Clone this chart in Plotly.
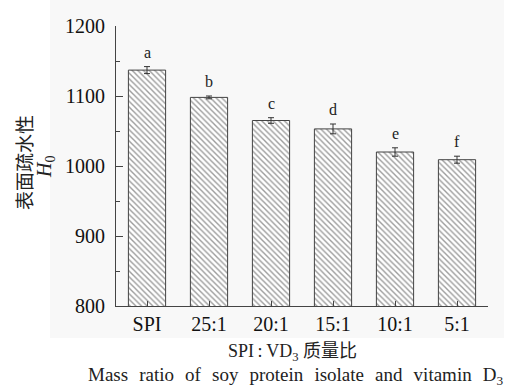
import plotly.graph_objects as go

categories = ["SPI", "25:1", "20:1", "15:1", "10:1", "5:1"]
values = [1137, 1098, 1065, 1053, 1020, 1009]
errors = [5, 2, 4, 7, 6, 5]
letters = ["a", "b", "c", "d", "e", "f"]
y_ticks = [800, 900, 1000, 1100, 1200]

FONT = "Liberation Serif, Times New Roman, Noto Sans CJK SC, serif"

W, H = 511, 387
ML, MR, MT, MB = 116, 23, 26, 81

x_idx = list(range(len(categories)))

fig = go.Figure()
fig.add_trace(go.Bar(
    x=x_idx, y=values, width=0.6,
    marker=dict(
        color="white",
        line=dict(color="#444444", width=1),
        pattern=dict(shape="\\", size=4, solidity=0.35, fgcolor="#3a3a3a", bgcolor="white"),
    ),
    error_y=dict(type="data", array=errors, visible=True, color="#333333", thickness=1, width=3),
    showlegend=False,
))

for i, (v, e, l) in enumerate(zip(values, errors, letters)):
    fig.add_annotation(x=i, y=v + e, text=l, showarrow=False, yanchor="bottom", yshift=4,
                       font=dict(family=FONT, size=16, color="#222"))

pw, ph = W - ML - MR, H - MT - MB
def px(x):
    return (x - ML) / pw
def py(y):
    return 1 - (y - MT) / ph

# faint grey panel behind chart
fig.add_shape(type="rect", xref="paper", yref="paper", layer="below",
              x0=px(50), x1=px(504), y0=py(338), y1=py(0),
              fillcolor="#f8f8f8", line=dict(width=0))

# y-axis title (two lines)
fig.add_annotation(xref="paper", yref="paper", x=px(23), y=py(163), xanchor="center", yanchor="middle",
                   text="表面疏水性", textangle=-90, showarrow=False,
                   font=dict(family="Noto Sans CJK SC", size=19, color="#222"))
fig.add_annotation(xref="paper", yref="paper", x=px(45), y=py(167), xanchor="center", yanchor="middle",
                   text="<i>H</i><sub>0</sub>", textangle=-90, showarrow=False,
                   font=dict(family=FONT, size=20, color="#222"))
# x-axis title (two lines)
fig.add_annotation(xref="paper", yref="paper", x=px(292), y=py(352), xanchor="center", yanchor="middle",
                   text="SPI\u2009:\u2009VD<sub>3</sub> 质量比", showarrow=False,
                   font=dict(family=FONT, size=18, color="#222"))
sep = "\u00a0\u00a0\u200a"
line2 = sep.join(["Mass", "ratio", "of", "soy", "protein", "isolate", "and", "vitamin", "D<sub>3</sub>"])
fig.add_annotation(xref="paper", yref="paper", x=px(295), y=py(376), xanchor="center", yanchor="middle",
                   text=line2, showarrow=False, font=dict(family=FONT, size=19, color="#222"))

fig.update_layout(
    width=W, height=H,
    margin=dict(l=ML, r=MR, t=MT, b=MB),
    paper_bgcolor="white", plot_bgcolor="white",
    font=dict(family=FONT, size=20, color="#111"),
    xaxis=dict(
        range=[-0.5, 5.5], tickmode="array", tickvals=x_idx, ticktext=categories,
        showline=True, linecolor="#444", linewidth=1,
        ticks="inside", ticklen=5, tickcolor="#444",
        showgrid=False, zeroline=False, fixedrange=True,
        tickfont=dict(family=FONT, size=20, color="#111"),
    ),
    yaxis=dict(
        range=[800, 1200], tickmode="array", tickvals=y_ticks,
        showline=True, linecolor="#444", linewidth=1,
        ticks="inside", ticklen=7, tickcolor="#444",
        minor=dict(dtick=50, tick0=800, ticks="inside", ticklen=4, tickcolor="#444", showgrid=False),
        showgrid=False, zeroline=False, fixedrange=True,
        tickfont=dict(family=FONT, size=20, color="#111"),
        ticklabelstandoff=6,
    ),
)

fig.write_html("out.html")
